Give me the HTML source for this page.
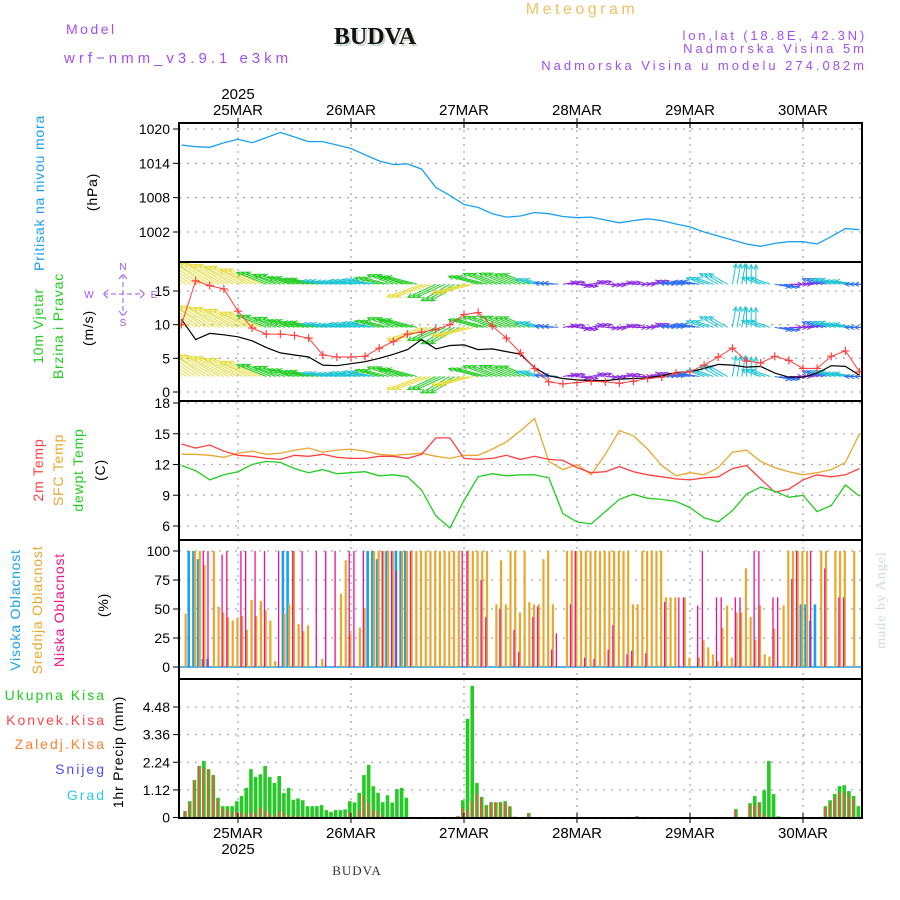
<!DOCTYPE html>
<html><head><meta charset="utf-8"><title>Meteogram BUDVA</title>
<style>
html,body{margin:0;padding:0;background:#fff;}
svg{display:block;font-family:"Liberation Sans",sans-serif;}
</style></head>
<body>
<svg id="chart" width="900" height="900" viewBox="0 0 900 900" xmlns="http://www.w3.org/2000/svg">
<rect x="0" y="0" width="900" height="900" fill="#fff"/>
<text x="582" y="14" font-size="16" fill="#f0c060" text-anchor="middle" letter-spacing="3.5">Meteogram</text>
<text x="66" y="34" font-size="14" fill="#a050f0" letter-spacing="2.5">Model</text>
<text x="64" y="63" font-size="15" fill="#a050f0" letter-spacing="4">wrf−nmm_v3.9.1 e3km</text>
<text x="375" y="44" font-size="24" font-weight="bold" font-family="Liberation Serif, serif" fill="#c8d8c8" text-anchor="middle" transform="translate(2,2)">BUDVA</text>
<text x="375" y="44" font-size="24" font-weight="bold" font-family="Liberation Serif, serif" fill="#111" text-anchor="middle">BUDVA</text>
<text x="867" y="40" font-size="13" fill="#a050f0" text-anchor="end" letter-spacing="2.8">lon,lat (18.8E, 42.3N)</text>
<text x="867" y="53" font-size="13" fill="#a050f0" text-anchor="end" letter-spacing="3">Nadmorska Visina 5m</text>
<text x="867" y="70" font-size="13" fill="#a050f0" text-anchor="end" letter-spacing="3">Nadmorska Visina u modelu 274.082m</text>
<text x="357" y="875" font-size="13" font-family="Liberation Serif, serif" fill="#333" text-anchor="middle" letter-spacing="1">BUDVA</text>
<text transform="translate(885,600) rotate(-90)" font-size="14" font-family="Liberation Serif, serif" fill="#d0dcd0" text-anchor="middle" letter-spacing="1">made by Angel</text>
<g id="g"></g>
</svg>
<script>
// ---- data (3-hourly, starting 24MAR 12UTC) ----
const hours3 = [-12,-9,-6,-3,0,3,6,9,12,15,18,21,24,27,30,33,36,39,42,45,48,51,54,57,60,63,66,69,72,75,78,81,84,87,90,93,96,99,102,105,108,111,114,117,120,123,126,129,132];
const pressure = [1017.2,1016.9,1016.8,1017.6,1018.2,1017.6,1018.5,1019.4,1018.6,1017.8,1017.8,1017.2,1016.6,1015.5,1014.4,1013.8,1013.9,1013.0,1009.8,1008.4,1006.8,1006.3,1005.2,1004.6,1004.8,1005.4,1005.2,1004.7,1004.5,1004.6,1004.1,1003.6,1004.0,1004.3,1004.0,1003.4,1002.9,1002.0,1001.3,1000.6,999.9,999.5,1000.0,1000.3,1000.3,999.9,1001.2,1002.6,1002.4];
const windSpeed = [10.8,7.8,8.7,8.5,8.2,7.6,6.6,5.8,5.5,5.2,4.0,3.9,4.2,4.5,5.0,5.6,6.3,7.8,6.4,6.9,7.0,6.3,6.4,6.0,5.6,3.6,2.4,2.0,1.8,1.7,1.7,1.9,2.0,2.1,2.4,2.9,3.0,3.5,4.1,4.0,3.7,3.8,2.8,2.2,2.2,2.8,3.9,3.8,2.5];
const windGust = [10.0,16.5,15.8,15.3,12.0,9.5,8.6,8.6,8.4,8.0,5.5,5.2,5.2,5.3,6.5,7.5,8.6,8.9,9.3,10.0,11.5,11.8,9.8,8.0,5.8,3.5,1.5,1.2,1.4,1.6,1.5,1.3,1.6,2.0,2.2,2.8,3.0,4.0,5.2,6.5,4.6,4.3,5.3,4.7,3.5,3.5,5.3,6.1,3.0];
const windDir = [145,145,148,150,152,155,158,160,165,168,170,172,170,168,165,160,165,200,205,210,195,165,160,158,158,165,175,10,-10,15,-5,10,0,15,5,175,170,160,150,80,90,160,-10,0,10,160,165,170,180];
const temp2m = [14.0,13.6,13.9,13.3,12.9,12.8,12.6,12.5,12.9,12.8,13.0,12.7,12.6,12.6,12.8,12.8,12.6,13.0,14.6,14.6,12.6,12.5,12.6,12.9,12.5,12.8,12.5,12.4,11.7,11.2,11.3,11.8,11.3,11.0,10.8,10.6,10.5,10.7,10.8,11.6,11.9,10.6,9.3,9.6,10.5,11.0,10.8,11.0,11.6];
const tempSfc = [13.0,13.0,12.9,12.7,13.1,13.3,13.0,13.1,13.4,13.6,13.2,13.4,13.5,13.3,13.0,12.9,13.0,13.1,12.8,12.6,12.9,12.9,13.5,14.2,15.3,16.5,12.3,11.5,12.0,11.0,13.0,15.3,14.8,13.5,11.9,10.9,11.2,11.0,11.7,13.2,13.4,12.3,11.7,11.3,11.0,11.2,11.5,12.2,15.0];
const dewpt = [11.9,11.4,10.5,11.0,11.3,12.0,12.3,12.2,11.6,11.2,11.5,11.1,11.2,11.3,10.9,11.0,10.8,9.5,7.0,5.8,8.5,10.8,11.1,10.9,11.0,11.0,10.7,7.2,6.4,6.2,7.4,8.6,9.1,8.7,8.6,8.4,7.8,6.8,6.4,7.5,9.1,9.8,9.4,8.8,9.0,7.4,8.0,10.0,8.9];
// ---- hourly data (143 values, first hour at 24MAR 12:45 UTC) ----
const hourStart = -11.25;
const cloudHigh = [0,100,100,93,7,7,0,0,0,0,0,0,0,0,0,0,0,0,0,0,0,100,100,0,0,0,0,0,0,0,0,0,0,0,0,0,0,0,0,100,100,93,0,100,0,100,100,100,0,0,0,0,0,0,0,0,0,0,0,0,0,0,0,0,0,0,0,0,0,0,0,0,0,0,0,0,0,0,0,0,0,0,0,0,0,0,0,0,0,0,0,0,0,0,0,0,0,0,0,0,0,0,0,0,0,0,0,0,0,0,0,0,0,0,0,0,0,0,0,0,0,0,0,0,0,0,0,0,0,0,0,54,54,40,54,0,0,0,0,0,0,0,0];
const cloudMid = [46,0,100,100,88,0,100,52,47,43,40,42,44,32,58,44,57,49,40,5,0,46,54,100,37,31,36,0,0,7,0,0,0,63,92,29,0,34,51,0,100,100,100,100,100,0,100,100,100,100,100,100,100,100,100,100,100,100,100,0,100,100,100,100,100,0,54,92,54,100,100,47,100,56,54,54,93,100,54,0,0,100,100,100,100,100,100,100,100,100,100,100,100,100,100,54,54,100,100,100,100,100,60,60,60,0,60,8,0,8,23,17,11,5,34,53,8,47,47,85,43,23,53,11,9,33,0,53,100,100,100,100,100,0,0,100,100,0,100,100,100,0,100];
const cloudLow = [0,0,0,0,100,100,0,0,97,100,0,0,100,100,0,100,0,100,0,0,100,0,0,100,0,100,0,0,100,0,100,0,100,0,0,100,100,0,100,0,0,0,100,0,100,83,0,0,100,0,0,0,0,0,0,0,0,0,0,100,100,0,0,75,43,0,0,50,0,0,32,13,0,0,43,52,0,0,15,29,0,0,54,100,0,8,0,7,0,0,15,36,0,0,11,14,0,0,12,0,0,0,56,0,0,60,60,0,0,53,100,0,0,60,60,0,0,60,60,0,0,100,100,0,0,60,60,0,0,76,100,0,0,100,0,0,85,0,0,60,60,0];
const precipTotal = [0.26,0.66,1.52,2.09,2.29,1.96,1.72,0.8,0.46,0.46,0.46,0.66,0.87,1.2,1.96,1.64,1.75,2.09,1.64,1.4,1.68,0.99,1.2,0.72,0.77,0.7,0.46,0.46,0.46,0.5,0.3,0.23,0.3,0.3,0.33,0.66,0.61,1.0,1.72,2.13,1.27,1.0,0.62,0.9,0.61,1.15,1.2,0.8,0,0,0,0,0,0,0,0,0,0,0.05,0.7,4.0,5.34,1.4,0.83,0.5,0.62,0.62,0.62,0.66,0.45,0.03,0,0,0.18,0,0,0.02,0,0,0,0,0,0,0,0,0,0,0,0,0,0,0,0,0,0,0,0.05,0,0,0,0,0,0,0,0,0,0,0,0,0,0,0,0,0,0,0,0,0.34,0,0,0.58,0.87,0.62,1.1,2.29,0.95,0.05,0,0,0,0,0,0,0,0,0,0.46,0.7,0.95,1.27,1.31,1.07,0.87,0.46];
const precipConv = [0.26,0.6,1.5,2.09,2.0,1.96,1.72,0.75,0.4,0.3,0.2,0.25,0.2,0.15,0.2,0.2,0.4,0.3,0.2,0.1,0.25,0.2,0.1,0.05,0.05,0.05,0.05,0,0,0,0,0,0,0,0,0.2,0,0.3,0.9,0.6,0.3,0.25,0.1,0,0,0,0,0,0,0,0,0,0,0,0,0,0,0,0.05,0.4,0.3,0.65,0.95,0.8,0.45,0.62,0.6,0.62,0.6,0.45,0.03,0,0,0.15,0,0,0.02,0,0,0,0,0,0,0,0,0,0,0,0,0,0,0,0,0,0,0,0.05,0,0,0,0,0,0,0,0,0,0,0,0,0,0,0,0,0,0,0,0,0.3,0,0,0.5,0.5,0.6,0.15,0,0,0,0,0,0,0,0,0,0,0,0,0.4,0.6,0.8,1.0,1.05,0.9,0.75,0];
const dayLabels = ['25MAR','26MAR','27MAR','28MAR','29MAR','30MAR'];
const pTicks = [1002,1008,1014,1020];
const wTicks = [0,5,10,15];
const tTicks = [6,9,12,15,18];
const cTicks = [0,25,50,75,100];
const rTicks = [0,1.12,2.24,3.36,4.48];

// ---- layout ----
const NS='http://www.w3.org/2000/svg';
const G=document.getElementById('g');
const L=179,R=862;
const xS=h=>238+h*113/24;
function mk(tag,attrs,parent){const e=document.createElementNS(NS,tag);for(const k in attrs)e.setAttribute(k,attrs[k]);(parent||G).appendChild(e);return e;}
function lin(d0,d1,r0,r1){return v=>r0+(v-d0)*(r1-r0)/(d1-d0);}
const yP=lin(1020,1002,129,232);
const yW=lin(0,15,392,291);
const yT=lin(18,6,403,526);
const yC=lin(0,100,667,551);
const yR=lin(0,4.48,817.5,707);
const panels=[[123,262,'pressure-panel'],[262,401,'wind-panel'],[401,540,'temperature-panel'],[540,679,'cloud-panel'],[679,818,'precip-panel']];

const defs=mk('defs',{});
panels.forEach((p,i)=>{const c=mk('clipPath',{id:'c'+i},defs);mk('rect',{x:L,y:p[0],width:R-L,height:p[1]-p[0]},c);});

function grid(pi,ticks,yf,fmt,name){
  const p=panels[pi];
  for(let d=0;d<6;d++){const x=xS(d*24);
    const gl=mk('line',{x1:x,x2:x,y1:p[0],y2:p[1],stroke:'#aaa','stroke-width':1.3,'stroke-dasharray':'2,5'});
    
    }
  ticks.forEach(t=>{const y=yf(t);
    const gl=mk('line',{x1:L,x2:R,y1:y,y2:y,stroke:'#aaa','stroke-width':1.3,'stroke-dasharray':'2,6'});
    
    
    const tk=mk('line',{x1:L-6,x2:L,y1:y,y2:y,stroke:'#000','stroke-width':1});
    
    
    const tx=mk('text',{x:L-9,y:y+5,'font-size':14,'text-anchor':'end',fill:'#000'});
    tx.textContent=fmt(t);
    
    });
}
grid(0,pTicks,yP,t=>t,'pressure-axis');
grid(1,wTicks,yW,t=>t,'wind-axis');
grid(2,tTicks,yT,t=>t,'temp-axis');
grid(3,cTicks,yC,t=>t,'cloud-axis');
grid(4,rTicks,yR,t=>t===0?'0':t.toFixed(2),'precip-axis');

function line(xs,ys,color,pi,name,w){
  const d=xs.map((x,i)=>(i?'L':'M')+x.toFixed(1)+','+ys[i].toFixed(1)).join('');
  const e=mk('path',{d:d,fill:'none',stroke:color,'stroke-width':w||1.3,'clip-path':'url(#c'+pi+')'});
  
  
  return e;
}
const X3=hours3.map(xS);
line(X3,pressure.map(yP),'#1aa0f0',0,'pressure-line');

// wind arrows
const rows=[16.0,9.6,2.3];
function wcol(v){return v>=7?'#e6dc3c':v>=5?'#22cc22':v>=3.3?'#20c4d4':v>=2.3?'#2f6ff0':'#8a2be2';}
const wg=mk('g',{'clip-path':'url(#c1)'});


rows.forEach(rv=>{
  hours3.forEach((h,i)=>{
    for(let k=0;k<3;k++){
      const x0=xS(h+k),y0=yW(rv);
      const len=4.2*windSpeed[i]+4;
      const a=windDir[i]*Math.PI/180;
      const x1=x0+len*Math.cos(a),y1=y0-len*Math.sin(a);
      const c=wcol(windSpeed[i]);
      const hl=5,ha=0.45;
      const b1x=x1+hl*Math.cos(a+Math.PI-ha),b1y=y1-hl*Math.sin(a+Math.PI-ha);
      const b2x=x1+hl*Math.cos(a+Math.PI+ha),b2y=y1-hl*Math.sin(a+Math.PI+ha);
      const ar=mk('path',{d:`M${x0},${y0}L${x1},${y1}M${b1x},${b1y}L${x1},${y1}L${b2x},${b2y}`,stroke:c,'stroke-width':1,fill:'none'},wg);
      
      
    }
  });
});
line(X3,windSpeed.map(yW),'#000',1,'wind-speed-line',1.2);
line(X3,windGust.map(yW),'#ff4040',1,'wind-gust-line',1);
hours3.forEach((h,i)=>{const x=xS(h),y=yW(windGust[i]);
  const m=mk('path',{d:`M${x-4},${y}L${x+4},${y}M${x},${y-4}L${x},${y+4}`,stroke:'#ff4040','stroke-width':1.2,'clip-path':'url(#c1)'});
  
  });

// temps
line(X3,tempSfc.map(yT),'#e8a830',2,'sfc-temp-line');
line(X3,temp2m.map(yT),'#ff4040',2,'temp-2m-line');
line(X3,dewpt.map(yT),'#22cc22',2,'dewpoint-line');

// clouds
const bl=mk('line',{x1:L,x2:R,y1:yC(0),y2:yC(0),stroke:'#1aa0f0','stroke-width':1.5});


function bars(arr,color,off,w,pi,yf,name){
  arr.forEach((v,i)=>{if(v<=0)return;const x=xS(hourStart+i)+off;const y=yf(v);
    const b=mk('rect',{x:x-w/2,y:y,width:w,height:yf(0)-y,fill:color,'clip-path':'url(#c'+pi+')'});
    
    });
}
bars(cloudHigh,'#1aa0f0',-1,2.6,3,yC,'cloud-high-bar');
bars(cloudMid,'#e8a830',0.6,2.2,3,yC,'cloud-mid-bar');
bars(cloudLow,'#ee1188',-0.6,1.3,3,yC,'cloud-low-bar');
bars(precipTotal,'#22cc22',0,3.6,4,yR,'precip-total-bar');
bars(precipConv,'#ff4848',-0.6,1.6,4,yR,'precip-convective-bar');

panels.forEach((p,i)=>{const f=mk('rect',{x:L,y:p[0],width:R-L,height:p[1]-p[0],fill:'none',stroke:'#000','stroke-width':2});
  
  });

dayLabels.forEach((lb,d)=>{const x=xS(d*24);
  const t1=mk('text',{x:x,y:115,'font-size':15,'text-anchor':'middle',fill:'#000'});t1.textContent=lb;
  
  
  const t2=mk('text',{x:x,y:838,'font-size':15,'text-anchor':'middle',fill:'#000'});t2.textContent=lb;
  
  
  [123,818].forEach(yy=>{const tk=mk('line',{x1:x,x2:x,y1:yy-5,y2:yy+5,stroke:'#000'});
    
    });
});
const y1=mk('text',{x:xS(0),y:99,'font-size':15,'text-anchor':'middle'});y1.textContent='2025';


const y2=mk('text',{x:xS(0),y:854,'font-size':15,'text-anchor':'middle'});y2.textContent='2025';



function vt(x,y,txt,color,name,fs){const t=mk('text',{transform:`translate(${x},${y}) rotate(-90)`,'font-size':fs||14,'text-anchor':'middle',fill:color,'letter-spacing':0.8});t.textContent=txt;
  
  }
vt(44,193,'Pritisak na nivou mora','#1aa0f0','pressure-title');
vt(97,192,'(hPa)','#000','pressure-unit');
vt(43,326,'10m Vjetar','#22cc22','wind-title-1');
vt(63,326,'Brzina i Pravac','#22cc22','wind-title-2');
vt(93,328,'(m/s)','#000','wind-unit');
vt(43,470,'2m Temp','#ff4040','temp-2m-title');
vt(63,470,'SFC Temp','#e8a830','sfc-temp-title');
vt(83,470,'dewpt Temp','#22cc22','dewpoint-title');
vt(105,470,'(C)','#000','temp-unit');
vt(20,610,'Visoka Oblacnost','#1aa0f0','cloud-high-title');
vt(42,610,'Srednja Oblacnost','#e8a830','cloud-mid-title');
vt(64,610,'Niska Oblacnost','#ee1188','cloud-low-title');
vt(108,605,'(%)','#000','cloud-unit');
vt(123,752,'1hr Precip (mm)','#000','precip-title');
[['Ukupna Kisa','#22cc22',700,'legend-total-rain'],['Konvek.Kisa','#ff4848',725,'legend-convective-rain'],['Zaledj.Kisa','#ff8030',749,'legend-freezing-rain'],['Snijeg','#4a4aff',774,'legend-snow'],['Grad','#30c8d8',800,'legend-hail']].forEach(l=>{
  const t=mk('text',{x:106,y:l[2],'font-size':14,'text-anchor':'end',fill:l[1],'letter-spacing':2});t.textContent=l[0];
  
  });
const cg=mk('g',{fill:'#a050f0','font-size':10,'text-anchor':'middle'});


[['N',123,270],['W',89,298],['E',154,298],['S',123,326]].forEach(c=>{const t=mk('text',{x:c[1],y:c[2]},cg);t.textContent=c[0];
  
  });
const cl=mk('path',{d:'M103,294L145,294M123,274L123,316M108,290L103,294L108,298M140,290L145,294L140,298M119,279L123,274L127,279M119,311L123,316L127,311',stroke:'#a050f0','stroke-width':1,fill:'none','stroke-dasharray':'5,3'});


</script>
</body></html>
